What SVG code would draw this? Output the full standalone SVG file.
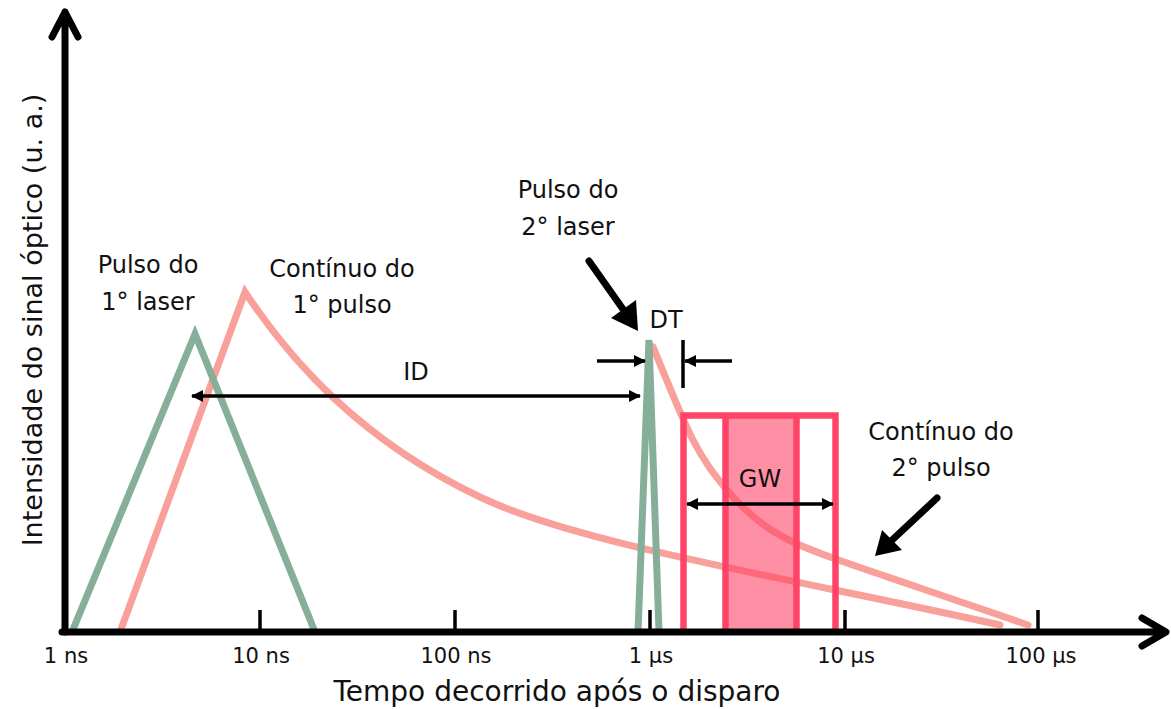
<svg xmlns="http://www.w3.org/2000/svg" width="1171" height="709" viewBox="0 0 1171 709">
<defs>
<style>
text{font-family:"DejaVu Sans","Liberation Sans",sans-serif;fill:#111}
.lbl{font-size:24px;text-anchor:middle}
.tick{font-size:21px;text-anchor:middle}
.ax{stroke:#000;stroke-width:7;fill:none;stroke-linecap:round;stroke-linejoin:round}
.tk{stroke:#000;stroke-width:3.5}
.grn{stroke:#86AF99;stroke-width:7;fill:none;stroke-linejoin:miter}
.pnk{stroke:#F9A09A;stroke-width:7;fill:none;stroke-linecap:round}
.red{stroke:#FF4468;stroke-width:6.5}
.blk{stroke:#000;stroke-width:3.5;fill:none}
</style>
<marker id="ah" viewBox="0 0 12 12" refX="11" refY="6" markerWidth="12" markerHeight="12" markerUnits="userSpaceOnUse" orient="auto-start-reverse">
<path d="M0,0 L12,6 L0,12 Z" fill="#000"/>
</marker>
</defs>
<rect width="1171" height="709" fill="#fff"/>

<g id="curves">
<path class="pnk" d="M120,632 L245,292 C290,360 360,440 480,497 C580,545 800,580 1000,625"/>
<polyline class="grn" points="72,632 195,334 315,632"/>
<path class="pnk" d="M653,347 C659.7,362.5 680.7,416.2 693,440 C705.3,463.8 715.8,476.3 727,490 C738.2,503.7 749,513.3 760,522 C771,530.7 781.3,536.2 793,542 C804.7,547.8 808.8,549.3 830,557 C851.2,564.7 887,576.7 920,588 C953,599.3 1010,618.8 1028,625"/>
<polyline class="grn" stroke-width="6" points="638,632 649,340 659,632"/>
</g>

<g id="gate">
<rect x="725.5" y="415.5" width="71" height="216" fill="#FF4468" fill-opacity="0.6"/>
<path class="red" fill="none" d="M683.5,632 V415.5 H835.5 V632 M725.5,415.5 V632 M796.5,415.5 V632"/>
</g>

<g id="axes">
<path class="ax" d="M65,632 V12 M52,37 L65,12 L78,37"/>
<path class="ax" d="M62,632 H1165 M1142,618 L1166,632 L1142,646"/>
<path class="tk" d="M260,610 V632 M455,610 V632 M650,610 V632 M845,610 V632 M1038,610 V632"/>
</g>

<g id="tick-labels">
<text class="tick" x="66" y="663">1 ns</text>
<text class="tick" x="261" y="663">10 ns</text>
<text class="tick" x="456" y="663">100 ns</text>
<text class="tick" x="651" y="663">1 µs</text>
<text class="tick" x="846" y="663">10 µs</text>
<text class="tick" x="1041" y="663">100 µs</text>
</g>

<g id="axis-titles">
<text x="557" y="701" font-size="28" text-anchor="middle">Tempo decorrido após o disparo</text>
<text transform="translate(42,320) rotate(-90)" font-size="27" text-anchor="middle">Intensidade do sinal óptico (u. a.)</text>
</g>

<g id="labels">
<g id="pulso1"><text class="lbl" x="148" y="273">Pulso do</text><text class="lbl" x="148" y="310">1° laser</text></g>
<g id="continuo1"><text class="lbl" x="342" y="277">Contínuo do</text><text class="lbl" x="342" y="313">1° pulso</text></g>
<g id="pulso2"><text class="lbl" x="568" y="198">Pulso do</text><text class="lbl" x="568" y="235">2° laser</text></g>
<g id="continuo2"><text class="lbl" x="941" y="440">Contínuo do</text><text class="lbl" x="941" y="476">2° pulso</text></g>
<g id="id-label"><text class="lbl" x="416" y="380" font-size="26">ID</text></g>
<g id="dt-label"><text class="lbl" x="666" y="328" font-size="26">DT</text></g>
<g id="gw-label"><text class="lbl" x="760" y="487" font-size="30">GW</text></g>
</g>

<g id="connectors">
<line class="blk" x1="192" y1="396" x2="640" y2="396" marker-start="url(#ah)" marker-end="url(#ah)"/>
<line class="blk" x1="687" y1="504" x2="833" y2="504" marker-start="url(#ah)" marker-end="url(#ah)"/>
<line class="blk" x1="597" y1="361" x2="645" y2="361" marker-end="url(#ah)"/>
<line class="blk" x1="732" y1="361" x2="685" y2="361" marker-end="url(#ah)"/>
<line class="blk" x1="683" y1="340" x2="683" y2="388"/>
<line stroke="#000" stroke-width="7" x1="589" y1="261" x2="625" y2="312" stroke-linecap="round"/>
<path d="M638,331 L611,318 L636,300 Z" fill="#000"/>
<line stroke="#000" stroke-width="7" x1="937" y1="498" x2="890" y2="542" stroke-linecap="round"/>
<path d="M875,556 L882,530 L902,550 Z" fill="#000"/>
</g>
</svg>
